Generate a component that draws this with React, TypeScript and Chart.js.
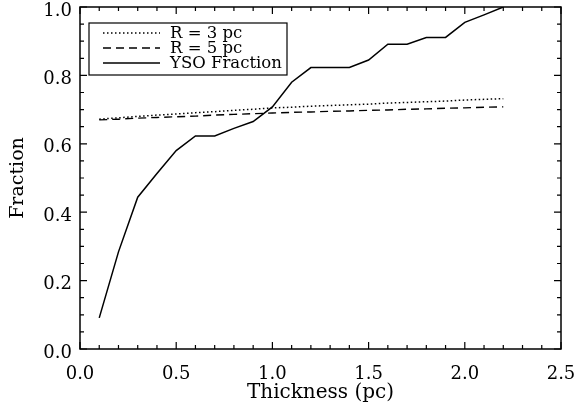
import React, { useEffect, useRef } from "react";
import { Chart, registerables } from "chart.js";

Chart.register(...registerables);

const thickness = [0.1, 0.2, 0.3, 0.4, 0.5, 0.6, 0.7, 0.8, 0.9, 1.0, 1.1, 1.2, 1.3, 1.4, 1.5, 1.6, 1.7, 1.8, 1.9, 2.0, 2.1, 2.2];
const r3pc = [0.672, 0.676, 0.680, 0.684, 0.687, 0.691, 0.694, 0.698, 0.701, 0.705, 0.707, 0.710, 0.712, 0.714, 0.716, 0.719, 0.721, 0.723, 0.725, 0.728, 0.730, 0.732];
const r5pc = [0.670, 0.672, 0.675, 0.677, 0.679, 0.681, 0.684, 0.686, 0.688, 0.690, 0.692, 0.693, 0.695, 0.696, 0.698, 0.699, 0.701, 0.702, 0.704, 0.705, 0.707, 0.708];
const ysoFraction = [0.091, 0.284, 0.444, 0.513, 0.580, 0.623, 0.623, 0.645, 0.665, 0.708, 0.780, 0.823, 0.823, 0.823, 0.845, 0.891, 0.891, 0.911, 0.911, 0.955, 0.977, 1.0];
const seriesLabels = ["R = 3 pc", "R = 5 pc", "YSO Fraction"];
const xTitle = "Thickness (pc)";
const yTitle = "Fraction";

const FONT = "'DejaVu Serif', serif";

const frameAndTicks = {
  id: "frameAndTicks",
  afterDatasetsDraw(chart: any) {
    const { ctx, chartArea, scales } = chart;
    const xs = scales.x;
    const ys = scales.y;
    ctx.save();
    ctx.strokeStyle = "#000";
    ctx.lineWidth = 1.5;
    ctx.setLineDash([]);
    ctx.strokeRect(chartArea.left, chartArea.top, chartArea.right - chartArea.left, chartArea.bottom - chartArea.top);
    ctx.lineWidth = 1.2;
    ctx.beginPath();
    for (let i = 0; i <= 25; i++) {
      const px = xs.getPixelForValue(i / 10);
      const len = i % 5 === 0 ? 7 : 4;
      ctx.moveTo(px, chartArea.bottom);
      ctx.lineTo(px, chartArea.bottom - len);
      ctx.moveTo(px, chartArea.top);
      ctx.lineTo(px, chartArea.top + len);
    }
    for (let j = 0; j <= 20; j++) {
      const py = ys.getPixelForValue(j / 20);
      const len = j % 4 === 0 ? 7 : 4;
      ctx.moveTo(chartArea.left, py);
      ctx.lineTo(chartArea.left + len, py);
      ctx.moveTo(chartArea.right, py);
      ctx.lineTo(chartArea.right - len, py);
    }
    ctx.stroke();

    // legend box
    const bx = chartArea.left + 9;
    const by = chartArea.top + 16;
    const bw = 198;
    const bh = 52;
    ctx.fillStyle = "#fff";
    ctx.fillRect(bx, by, bw, bh);
    ctx.lineWidth = 1.2;
    ctx.strokeRect(bx, by, bw, bh);
    ctx.font = "16.5px " + FONT;
    ctx.textBaseline = "middle";
    ctx.textAlign = "left";
    chart.data.datasets.forEach((ds: any, k: number) => {
      const yy = by + 10 + k * 15;
      ctx.beginPath();
      ctx.lineWidth = ds.borderWidth;
      ctx.setLineDash(ds.borderDash || []);
      ctx.moveTo(bx + 14, yy);
      ctx.lineTo(bx + 71, yy);
      ctx.stroke();
      ctx.setLineDash([]);
      ctx.fillStyle = "#000";
      ctx.fillText(ds.label, bx + 81, yy + 1);
    });
    ctx.restore();
  },
};

function zeroPad(s: any) {
  s.paddingLeft = 0;
  s.paddingRight = 0;
  s.paddingTop = 0;
  s.paddingBottom = 0;
}

export default function App() {
  const ref = useRef<HTMLCanvasElement | null>(null);
  useEffect(() => {
    if (!ref.current) return;
    const chart = new Chart(ref.current, {
      type: "line",
      data: {
        labels: thickness,
        datasets: [
          { label: seriesLabels[0], data: thickness.map((x, i) => ({ x, y: r3pc[i] })), borderColor: "#000", borderWidth: 1.5, borderDash: [1.5, 2.5], pointRadius: 0, fill: false, tension: 0 },
          { label: seriesLabels[1], data: thickness.map((x, i) => ({ x, y: r5pc[i] })), borderColor: "#000", borderWidth: 1.4, borderDash: [8, 5], pointRadius: 0, fill: false, tension: 0 },
          { label: seriesLabels[2], data: thickness.map((x, i) => ({ x, y: ysoFraction[i] })), borderColor: "#000", borderWidth: 1.5, pointRadius: 0, fill: false, tension: 0 },
        ],
      },
      options: {
        responsive: false,
        animation: false,
        layout: { padding: { left: 0, top: 7, right: 16, bottom: 0 } },
        plugins: { legend: { display: false }, tooltip: { enabled: false } },
        scales: {
          x: {
            type: "linear",
            min: 0,
            max: 2.5,
            grid: { display: false, drawTicks: false },
            border: { display: false },
            ticks: {
              stepSize: 0.5,
              padding: 15,
              color: "#000",
              font: { family: FONT, size: 18 },
              maxRotation: 0,
              callback: (v: any) => Number(v).toFixed(1),
            },
            title: { display: true, text: xTitle, color: "#000", font: { family: FONT, size: 20 }, padding: { top: 0, bottom: 3 } },
            afterFit: (s: any) => { s.height = 59; zeroPad(s); },
          },
          y: {
            type: "linear",
            min: 0,
            max: 1,
            grid: { display: false, drawTicks: false },
            border: { display: false },
            ticks: {
              stepSize: 0.2,
              padding: 8,
              labelOffset: 4,
              color: "#000",
              font: { family: FONT, size: 18 },
              callback: (v: any) => Number(v).toFixed(1),
            },
            title: { display: true, text: yTitle, color: "#000", font: { family: FONT, size: 19 }, padding: { top: 7, bottom: 0 } },
            afterFit: (s: any) => { s.width = 80; zeroPad(s); },
          },
        },
      },
      plugins: [frameAndTicks],
    });
    return () => chart.destroy();
  }, []);
  return (
    <div style={{ position: "fixed", left: 0, top: 0, width: 577, height: 408, background: "#fff" }}>
      <canvas ref={ref} width={577} height={408} style={{ width: 577, height: 408 }} />
    </div>
  );
}
